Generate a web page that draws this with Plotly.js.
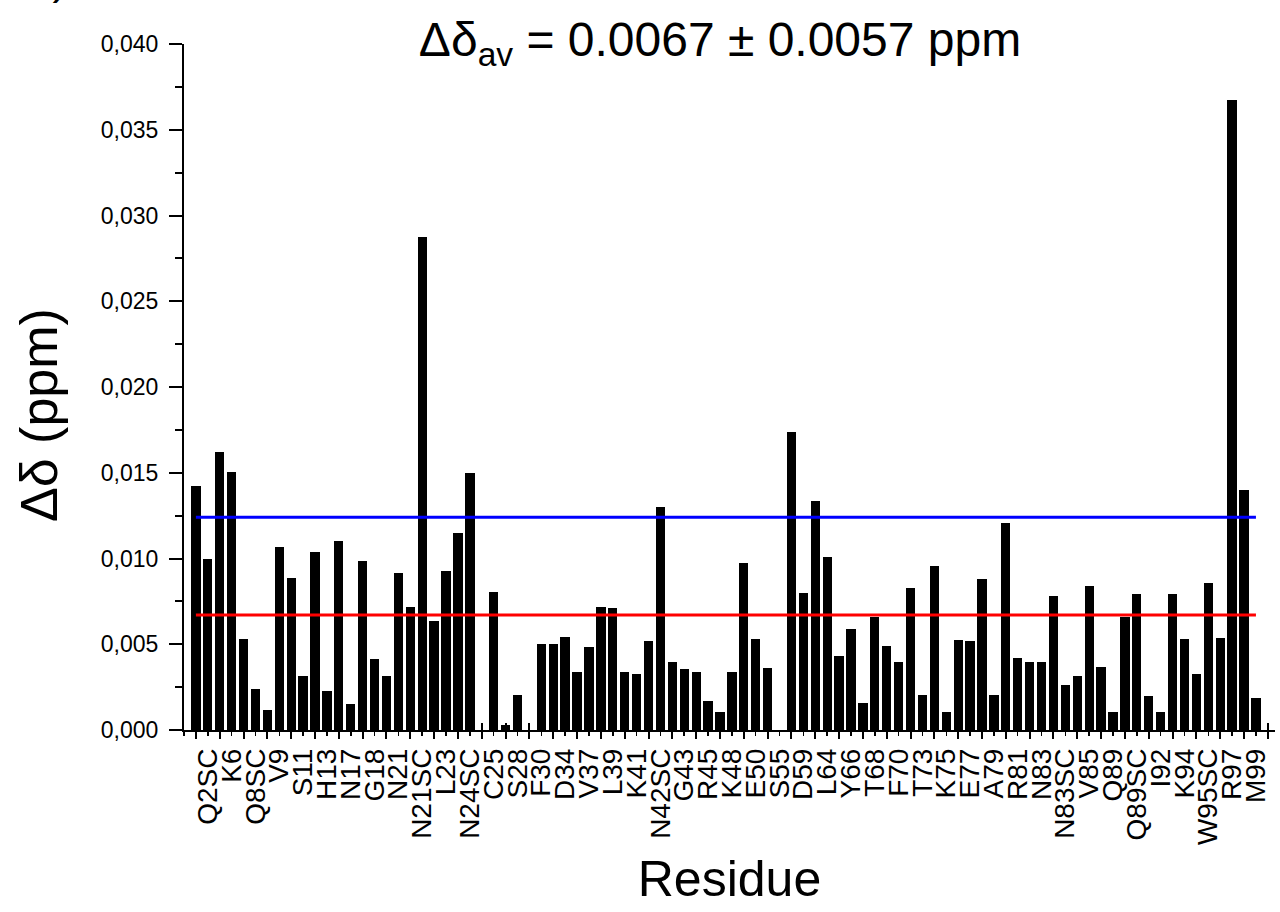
<!DOCTYPE html>
<html>
<head>
<meta charset="utf-8">
<script src="https://cdn.plot.ly/plotly-3.0.1.min.js"></script>
<style>html,body{margin:0;padding:0;background:#fff;}#chart{width:1280px;height:912px;}</style>
</head>
<body>
<div id="chart"></div>
<script>
// Tick labels (every other residue slot is labelled)
const residueLabels = ['Q2SC','K6','Q8SC','V9','S11','H13','N17','G18','N21','N21SC','L23','N24SC','C25','S28','F30','D34','V37','L39','K41','N42SC','G43','R45','K48','E50','S55','D59','L64','Y66','T68','F70','T73','K75','E77','A79','R81','N83','N83SC','V85','Q89','Q89SC','I92','K94','W95SC','R97','M99'];

// Chemical shift perturbation per residue slot (ppm); null = no data
const shiftValues = [
  0.01423, 0.00995, 0.01622, 0.01507, 0.00532, 0.00239, 0.00118, 0.01065, 0.00884, 0.00315,
  0.01037, 0.00229, 0.01101, 0.00150, 0.00985, 0.00415, 0.00315, 0.00917, 0.00715, 0.02874,
  0.00633, 0.00925, 0.01151, 0.01499, null,    0.00806, 0.00030, 0.00206, null,    0.00503,
  0.00499, 0.00544, 0.00340, 0.00485, 0.00718, 0.00713, 0.00340, 0.00325, 0.00517, 0.01303,
  0.00396, 0.00354, 0.00338, 0.00171, 0.00107, 0.00340, 0.00975, 0.00528, 0.00363, null,
  0.01735, 0.00800, 0.01334, 0.01010, 0.00433, 0.00587, 0.00159, 0.00660, 0.00488, 0.00394,
  0.00826, 0.00206, 0.00957, 0.00107, 0.00526, 0.00519, 0.00882, 0.00202, 0.01206, 0.00418,
  0.00394, 0.00398, 0.00783, 0.00262, 0.00315, 0.00837, 0.00369, 0.00107, 0.00660, 0.00794,
  0.00198, 0.00105, 0.00791, 0.00532, 0.00325, 0.00858, 0.00534, 0.03675, 0.01398, 0.00185
];

const meanShift = 0.0067;
const sdShift = 0.0057;

const slots = shiftValues.map((_, i) => i + 1);
const nSlots = slots.length;
const labelSlots = residueLabels.map((_, i) => 2 * i + 2);
const tickSlots = [];
for (let s = 1; s <= nSlots + 1; s += 2) tickSlots.push(s);

const FONT = "'Liberation Sans', Arial, Helvetica, sans-serif";
const xr = [0, nSlots + 1.6];

const traces = [
  {type: 'bar', x: slots, y: shiftValues, width: 0.78,
   marker: {color: '#000000', line: {width: 0}}, xaxis: 'x', yaxis: 'y', showlegend: false, hoverinfo: 'x+y'},
  {type: 'scatter', mode: 'lines', x: [slots[0], slots[nSlots - 1]], y: [meanShift, meanShift],
   line: {color: '#ff0000', width: 3}, xaxis: 'x2', yaxis: 'y', showlegend: false},
  {type: 'scatter', mode: 'lines', x: [slots[0], slots[nSlots - 1]], y: [meanShift + sdShift, meanShift + sdShift],
   line: {color: '#0000ff', width: 3}, xaxis: 'x3', yaxis: 'y', showlegend: false}
];

const layout = {
  width: 1280, height: 912,
  paper_bgcolor: '#ffffff', plot_bgcolor: '#ffffff',
  separators: ', ',
  margin: {l: 184, r: 5, t: 44, b: 182, pad: 0},
  font: {family: FONT, color: '#000000', size: 23},
  title: {text: 'Δδ<sub>av</sub> = 0.0067 ± 0.0057 ppm', font: {family: FONT, size: 48, color: '#000'},
          x: 0.5625, xanchor: 'center', xref: 'container', y: 0.957, yanchor: 'middle', yref: 'container'},
  bargap: 0,
  xaxis: {
    range: xr, tickmode: 'array', tickvals: tickSlots, showticklabels: false,
    ticks: 'outside', ticklen: 7, tickwidth: 2, tickcolor: '#000',
    minor: {tickmode: 'linear', tick0: 0, dtick: 2, ticks: 'outside', ticklen: 4, tickwidth: 1.5, tickcolor: '#000'},
    showline: true, linewidth: 2, linecolor: '#000', showgrid: false, zeroline: false
  },
  xaxis2: {
    range: xr, overlaying: 'x', anchor: 'y', side: 'bottom',
    tickmode: 'array', tickvals: labelSlots, ticktext: residueLabels, tickangle: -90,
    tickfont: {family: FONT, size: 28, color: '#000'}, ticks: '', ticklabelstandoff: 12,
    showline: false, showgrid: false, zeroline: false,
    title: {text: 'Residue', font: {family: FONT, size: 50, color: '#000'}, standoff: 16}
  },
  xaxis3: {
    range: xr, overlaying: 'x', anchor: 'y', side: 'bottom',
    tickmode: 'array', tickvals: tickSlots, showticklabels: false,
    ticks: 'inside', ticklen: 7, tickwidth: 2, tickcolor: '#000',
    showline: false, showgrid: false, zeroline: false
  },
  yaxis: {
    range: [0, 0.04], tickmode: 'linear', tick0: 0, dtick: 0.005, tickformat: '.3f',
    ticks: 'outside', ticklen: 13, tickwidth: 2, tickcolor: '#000', ticklabelstandoff: 6,
    minor: {tickmode: 'linear', tick0: 0, dtick: 0.0025, ticks: 'outside', ticklen: 7, tickwidth: 2, tickcolor: '#000'},
    tickfont: {family: FONT, size: 23, color: '#000'},
    showline: true, linewidth: 2, linecolor: '#000', showgrid: false, zeroline: false
  },
  annotations: [
    {text: 'Δδ (ppm)', textangle: -90, font: {family: FONT, size: 52, color: '#000'},
     xref: 'paper', yref: 'paper', x: -0.133, y: 0.459, xanchor: 'center', yanchor: 'middle', showarrow: false},
    {text: 'a)', font: {family: FONT, size: 44, color: '#000'},
     xref: 'paper', yref: 'paper', x: -0.105, y: 1.096, xanchor: 'right', yanchor: 'middle', showarrow: false}
  ]
};

Plotly.newPlot('chart', traces, layout, {staticPlot: true, displayModeBar: false});
</script>
</body>
</html>
